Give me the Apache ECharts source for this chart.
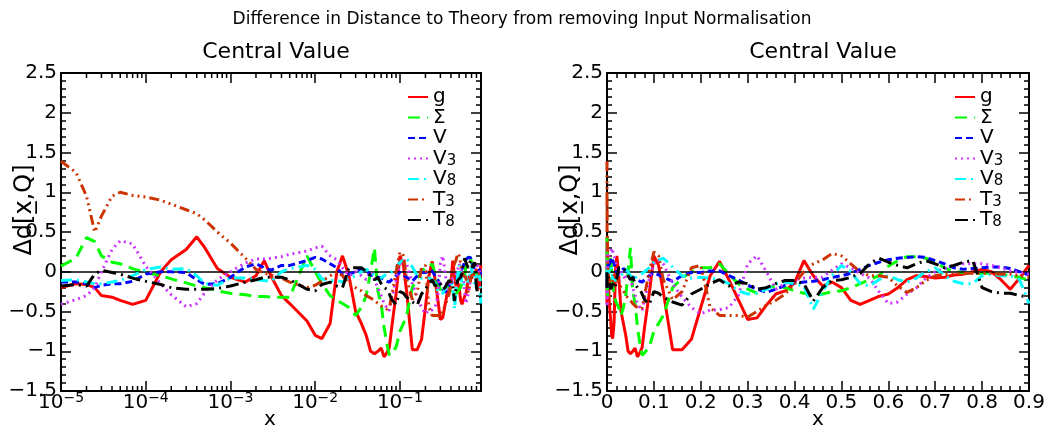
<!DOCTYPE html>
<html><head><meta charset="utf-8">
<script src="https://cdn.jsdelivr.net/npm/echarts@6/dist/echarts.min.js"></script>
<style>html,body{margin:0;padding:0;background:#fff}#c{width:1044px;height:430px}</style>
</head><body><div id="c"></div>
<script>
// ---- data ----
const xs = [1e-5,1.5e-5,2e-5,2.5e-5,3e-5,4e-5,5e-5,7e-5,1e-4,1.5e-4,
 2e-4,3e-4,4e-4,5e-4,7e-4,1e-3,1.5e-3,2e-3,2.5e-3,3e-3,
 4e-3,5e-3,8e-3,0.01,0.012,0.015,0.018,0.021,0.025,0.03,
 0.035,0.04,0.045,0.05,0.055,0.06,0.065,0.07,0.075,0.08,
 0.09,0.1,0.11,0.12,0.14,0.16,0.18,0.2,0.22,0.24,
 0.26,0.28,0.3,0.32,0.34,0.36,0.38,0.4,0.42,0.44,
 0.46,0.48,0.5,0.52,0.54,0.56,0.58,0.6,0.62,0.64,
 0.66,0.68,0.7,0.72,0.74,0.76,0.78,0.8,0.82,0.84,
 0.86,0.88,0.9];
const g = [-0.2,-0.15,-0.16,-0.2,-0.3,-0.32,-0.36,-0.41,-0.36,0.0,
 0.15,0.28,0.44,0.3,0.04,-0.07,-0.13,-0.05,0.14,-0.05,
 -0.3,-0.4,-0.62,-0.8,-0.84,-0.65,0.0,0.2,-0.05,-0.5,
 -0.65,-0.8,-1.0,-1.03,-1.0,-0.96,-1.07,-1.02,-0.95,-0.7,
 -0.28,0.2,0.08,-0.25,-0.98,-0.98,-0.85,-0.45,-0.05,0.13,
 -0.1,-0.35,-0.6,-0.58,-0.42,-0.28,-0.24,-0.14,0.14,-0.05,
 -0.18,-0.13,-0.2,-0.36,-0.41,-0.36,-0.31,-0.28,-0.2,-0.1,
 -0.05,-0.06,-0.08,-0.07,-0.04,-0.03,0.0,0.03,0.0,-0.1,
 -0.22,-0.08,0.08];
const sigma = [0.07,0.17,0.43,0.38,0.2,0.12,0.1,0.04,-0.01,-0.05,
 -0.09,-0.14,-0.18,-0.2,-0.24,-0.27,-0.29,-0.31,-0.31,-0.32,
 -0.32,-0.32,0.2,0.0,-0.15,-0.3,-0.36,-0.4,-0.45,-0.55,
 -0.45,-0.3,0.0,0.3,-0.25,-0.4,-0.7,-0.9,-1.05,-1.02,
 -0.95,-0.75,-0.65,-0.55,-0.2,-0.08,0.0,0.05,0.05,0.1,
 -0.03,-0.15,-0.22,-0.27,-0.2,-0.18,-0.2,-0.24,-0.27,-0.3,
 -0.28,-0.25,-0.24,-0.2,-0.15,-0.1,-0.05,0.07,0.14,0.19,
 0.19,0.17,0.12,0.05,0.0,-0.01,-0.02,-0.02,-0.02,-0.03,
 -0.05,-0.07,-0.11];
const vTot = [-0.13,-0.13,-0.15,-0.2,-0.17,-0.15,-0.15,-0.12,-0.03,0.0,
 0.0,-0.01,-0.1,-0.16,-0.15,-0.07,0.06,0.1,0.05,0.02,
 0.08,0.08,0.14,0.18,0.16,0.1,0.05,-0.03,-0.03,0.0,
 0.04,0.02,-0.04,-0.06,-0.07,-0.08,-0.1,-0.12,-0.13,-0.1,
 -0.05,-0.01,-0.04,-0.07,-0.12,-0.05,-0.01,-0.01,0.01,0.01,
 -0.05,-0.1,-0.17,-0.22,-0.26,-0.22,-0.17,-0.14,-0.13,-0.12,
 -0.1,-0.07,-0.05,-0.02,0.03,0.08,0.12,0.15,0.17,0.18,
 0.19,0.18,0.14,0.1,0.05,0.03,0.04,0.05,0.06,0.06,
 0.04,0.0,-0.04];
const v3 = [-0.41,-0.35,-0.3,-0.2,0.0,0.28,0.39,0.35,0.07,-0.15,
 -0.29,-0.44,-0.4,-0.26,-0.1,0.0,0.11,0.16,0.16,0.17,
 0.19,0.22,0.26,0.3,0.32,0.2,0.15,0.05,-0.05,0.0,
 -0.05,-0.1,0.0,-0.1,-0.2,-0.3,-0.4,-0.45,-0.49,-0.35,
 -0.1,0.1,0.15,0.1,-0.15,-0.32,-0.45,-0.53,-0.48,-0.48,
 -0.45,-0.3,0.1,0.2,0.0,-0.22,-0.15,-0.1,-0.08,-0.07,
 -0.07,0.02,0.1,0.05,-0.02,-0.08,-0.25,-0.4,-0.38,-0.28,
 -0.2,-0.08,0.0,0.04,0.08,0.1,0.1,0.1,0.08,0.05,
 0.01,-0.01,-0.03];
const v8 = [-0.11,-0.1,-0.13,-0.15,-0.15,-0.13,-0.11,-0.05,0.03,0.06,
 0.03,0.04,-0.05,-0.15,-0.17,-0.08,-0.08,-0.1,-0.11,-0.12,
 0.0,0.04,0.08,0.03,-0.09,-0.11,-0.11,-0.13,-0.08,-0.05,
 0.0,0.03,0.0,-0.05,-0.1,-0.08,-0.05,-0.03,-0.02,0.0,
 0.05,0.12,0.15,0.17,0.06,-0.05,-0.08,-0.07,-0.08,-0.1,
 -0.15,-0.24,-0.28,-0.27,-0.22,-0.15,-0.13,-0.15,-0.18,-0.47,
 -0.25,-0.05,0.08,0.0,-0.15,-0.18,-0.1,-0.05,-0.1,-0.13,
 -0.08,0.0,0.05,-0.05,-0.12,-0.15,-0.15,-0.05,-0.03,-0.05,
 -0.05,-0.1,-0.4];
const t3 = [1.39,1.25,0.95,0.5,0.7,0.95,1.0,0.96,0.94,0.9,
 0.85,0.78,0.73,0.65,0.5,0.36,0.17,0.03,-0.02,-0.04,
 -0.08,-0.13,-0.2,-0.17,-0.12,-0.05,0.0,-0.05,-0.15,-0.2,
 -0.24,-0.3,-0.33,-0.36,-0.4,-0.43,-0.45,-0.47,-0.45,-0.3,
 0.0,0.25,0.2,-0.1,-0.35,-0.25,0.05,0.08,-0.45,-0.55,
 -0.55,-0.55,-0.57,-0.5,-0.42,-0.36,-0.28,-0.15,0.0,0.1,
 0.15,0.23,0.2,0.1,0.0,-0.05,-0.05,-0.07,-0.18,-0.26,
 -0.2,-0.11,-0.05,-0.03,-0.03,-0.02,-0.02,-0.02,-0.02,-0.03,
 -0.03,-0.05,-0.07];
const t8 = [-0.18,-0.16,-0.18,-0.03,0.02,-0.01,-0.03,-0.08,-0.12,-0.16,
 -0.2,-0.22,-0.22,-0.22,-0.21,-0.18,-0.13,-0.1,-0.07,-0.07,
 -0.07,-0.1,-0.22,-0.24,-0.16,-0.13,-0.18,-0.2,0.05,0.05,
 0.05,0.0,-0.05,-0.1,-0.07,-0.15,-0.2,-0.22,-0.28,-0.35,
 -0.41,-0.25,-0.27,-0.32,-0.38,-0.42,-0.28,-0.22,-0.15,-0.1,
 -0.18,-0.13,-0.15,-0.22,-0.2,-0.15,-0.11,-0.11,-0.15,-0.37,
 -0.2,-0.11,-0.1,-0.07,-0.02,0.1,0.17,0.12,0.08,0.05,
 0.1,0.14,0.1,0.05,0.08,0.12,0.14,-0.2,-0.25,-0.27,
 -0.27,-0.3,-0.32];

const seriesNames = ['g','Σ','V','V3','V8','T3','T8'];
const legendLabels = ['g','Σ','V','V{sub|3}','V{sub|8}','T{sub|3}','T{sub|8}'];
const seriesValues = [g, sigma, vTot, v3, v8, t3, t8];
const mainTitle = 'Difference in Distance to Theory from removing Input Normalisation';
const panelTitle = 'Central Value';
const yTitle = 'Δd[x\u0332,Q]';
const xTitle = 'x';
const Y_MIN = -1.5, Y_MAX = 2.5, Y_STEP = 0.5;
const X_LOG_MIN = 1e-5, X_MAX = 0.905, X_LIN_MAX = 0.9;

// ---- styles ----
const FONT = '"DejaVu Sans", Verdana, sans-serif';
const colors = ['#ff0000','#00ff00','#0000ff','#cc33ff','#00ffff','#cc3300','#000000'];
const dashes = ['solid',[12,7],[7,4],[2,4],[11,5,2,5],[10,4,2,4,2,4,2,4],[13,5,2,5]];

// log minor tick positions (2..9 x 10^n)
const logMinor = [];
for (let n = -5; n <= -1; n++) for (let k = 2; k <= 9; k++) { const v = k * Math.pow(10, n); if (v < X_MAX) logMinor.push([v, 0]); }

const chart = echarts.init(document.getElementById('c'), null, {renderer: 'canvas'});

function yFmt(v){ const r = Math.round(v*10)/10; return (r < 0 ? '−' : '') + String(Math.abs(r)); }
function logFmt(v){ const l = Math.log10(v); const e = Math.round(l); if (Math.abs(l-e) > 1e-6) return ''; return '{b|10}{sup|' + (e<0?'−':'') + Math.abs(e) + '}'; }
function linFmt(v){ const r = Math.round(v*10); if (Math.abs(v*10 - r) > 1e-6) return ''; return r === 0 ? '0' : (r/10).toFixed(1); }

const tickStyle = {color:'#000', width:1.5};
const axisLineStyle = {show:true, onZero:false, lineStyle:{color:'#000', width:2}};

function xAxisDef(grid, type, pos, showLabel){
  const d = {
    gridIndex: grid, type: type, position: pos,
    min: type === 'log' ? X_LOG_MIN : 0, max: type === 'log' ? X_MAX : X_LIN_MAX,
    axisLine: axisLineStyle, splitLine:{show:false},
    axisTick:{show:true, inside:true, length:10, lineStyle:tickStyle},
    axisLabel:{show: showLabel, color:'#000', fontFamily: FONT, fontSize:20, margin: 2, showMinLabel:true, showMaxLabel:true},
  };
  if (type === 'log') {
    d.logBase = 10;
    d.axisLabel.formatter = logFmt;
    d.axisLabel.rich = {b:{fontSize:20, lineHeight:24, fontFamily:FONT, color:'#000'}, sup:{fontSize:14, lineHeight:8, verticalAlign:'top', fontFamily:FONT, color:'#000'}};
    d.axisLabel.margin = 0;
    d.minorTick = {show:false};
  } else {
    d.interval = 0.1;
    d.axisLabel.formatter = linFmt;
    d.minorTick = {show:true, splitNumber:5, length:5, lineStyle:tickStyle};
  }
  return d;
}
function yAxisDef(grid, pos, showLabel){
  return {
    gridIndex: grid, type:'value', position: pos, min: Y_MIN, max: Y_MAX, interval: Y_STEP,
    axisLine: axisLineStyle, splitLine:{show:false},
    axisTick:{show:true, inside:true, length:10, lineStyle:tickStyle},
    minorTick:{show:true, splitNumber:5, length:5, lineStyle:tickStyle},
    axisLabel:{show: showLabel, color:'#000', fontFamily:FONT, fontSize:20, margin:4, formatter: yFmt, showMinLabel:true, showMaxLabel:true}
  };
}

const series = [];
[0, 1].forEach(function(p){
  seriesNames.forEach(function(name, i){
    const vals = seriesValues[i];
    const s = {
      type:'line', name: name, xAxisIndex: 2*p, yAxisIndex: 2*p,
      data: xs.map(function(x, j){ return [x, vals[j]]; }),
      symbol:'none', showSymbol:false, smooth:false, silent:true, clip:true,
      lineStyle:{color: colors[i], width:3, type: dashes[i], cap:'butt'},
      itemStyle:{color: colors[i]}, z: 3 + i
    };
    if (i === 0) {
      s.markLine = {silent:true, symbol:['none','none'], label:{show:false}, animation:false,
        lineStyle:{color:'#000', width:1.5, type:'solid'}, data:[{yAxis:0}]};
    }
    series.push(s);
  });
});
series.push({
  type:'custom', name:'logMinorTicks', xAxisIndex:0, yAxisIndex:0, data: logMinor, silent:true, z: 20, clip:false,
  renderItem: function(params, api){
    const x = api.value(0);
    const b = api.coord([x, Y_MIN]);
    const t = api.coord([x, Y_MAX]);
    return {type:'group', children:[
      {type:'line', shape:{x1:b[0], y1:b[1], x2:b[0], y2:b[1]-5}, style:{stroke:'#000', lineWidth:1.5}},
      {type:'line', shape:{x1:t[0], y1:t[1], x2:t[0], y2:t[1]+5}, style:{stroke:'#000', lineWidth:1.5}}
    ]};
  }
});

function legendDef(left){
  return {
    data: seriesNames, left: left, top: 87, orient:'vertical', padding:0,
    itemWidth:20, itemHeight:14, itemGap:0.5, selectedMode:false,
    itemStyle:{opacity:0},
    formatter: function(name){ return legendLabels[seriesNames.indexOf(name)]; },
    textStyle:{color:'#000', fontFamily:FONT, fontSize:20, lineHeight:20,
      rich:{sub:{fontSize:15, lineHeight:2, verticalAlign:'bottom', fontFamily:FONT, color:'#000'}}}
  };
}

const option = {
  animation:false,
  backgroundColor:'#fff',
  title:[
    {text: mainTitle, left:'center', top:6, textStyle:{fontSize:17, fontWeight:'normal', color:'#000', fontFamily:FONT}},
    {text: panelTitle, left:271, textAlign:'center', top:36, textStyle:{fontSize:22, fontWeight:'normal', color:'#000', fontFamily:FONT}},
    {text: panelTitle, left:818, textAlign:'center', top:36, textStyle:{fontSize:22, fontWeight:'normal', color:'#000', fontFamily:FONT}}
  ],
  legend:[legendDef(407), legendDef(954)],
  grid:[
    {left:61, top:73, width:420, height:318, containLabel:false, outerBoundsMode:'none'},
    {left:607, top:73, width:422, height:318, containLabel:false, outerBoundsMode:'none'}
  ],
  xAxis:[xAxisDef(0,'log','bottom',true), xAxisDef(0,'log','top',false), xAxisDef(1,'value','bottom',true), xAxisDef(1,'value','top',false)],
  yAxis:[yAxisDef(0,'left',true), yAxisDef(0,'right',false), yAxisDef(1,'left',true), yAxisDef(1,'right',false)],
  graphic:[
    {type:'text', x:25, y:210, rotation:Math.PI/2, style:{text:yTitle, fill:'#000', font:'24px ' + FONT, textAlign:'center', textVerticalAlign:'middle'}},
    {type:'text', x:571, y:210, rotation:Math.PI/2, style:{text:yTitle, fill:'#000', font:'24px ' + FONT, textAlign:'center', textVerticalAlign:'middle'}},
    {type:'text', x:270, y:420, style:{text:xTitle, fill:'#000', font:'20px ' + FONT, textAlign:'center', textVerticalAlign:'middle'}},
    {type:'text', x:818, y:420, style:{text:xTitle, fill:'#000', font:'20px ' + FONT, textAlign:'center', textVerticalAlign:'middle'}}
  ],
  series: series
};
chart.setOption(option);
</script></body></html>
